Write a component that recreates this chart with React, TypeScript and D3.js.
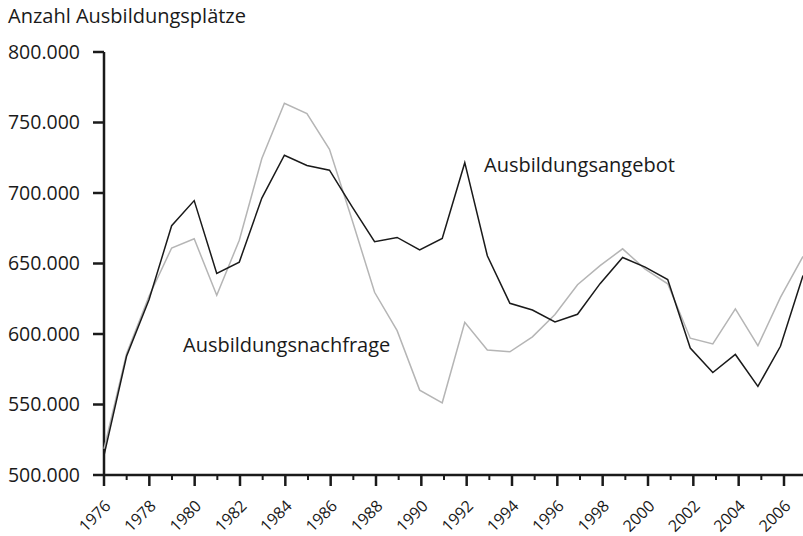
import React from "react";
import * as d3 from "d3";

const years = d3.range(1976, 2008);
const angebot = [513.9, 584.2, 624.5, 676.8, 694.6, 643.0, 651.0, 696.4, 726.8, 719.5, 716.2, 690.3, 665.5, 668.5, 659.7, 667.8, 721.5, 655.5, 621.8, 617.0, 608.5, 614.0, 635.7, 654.3, 647.4, 638.6, 590.0, 572.7, 585.5, 562.8, 591.3, 641.5];
const nachfrage = [518.5, 586.0, 627.0, 661.0, 667.5, 627.5, 666.5, 724.5, 763.6, 756.3, 731.0, 681.0, 629.6, 602.4, 560.2, 551.2, 608.3, 588.7, 587.4, 598.0, 613.8, 634.9, 648.5, 660.4, 646.0, 635.6, 597.0, 593.0, 617.8, 591.7, 626.0, 655.0];
const yTicks = [500, 550, 600, 650, 700, 750, 800];
const xTickYears = d3.range(1976, 2007, 2);
const minorYears = d3.range(1977, 2007, 2);
const title = "Anzahl Ausbildungsplätze";
const labelAngebot = "Ausbildungsangebot";
const labelNachfrage = "Ausbildungsnachfrage";

const W = 803;
const H = 536;
const FONT = "'Open Sans', sans-serif";

export default function App() {
  const x = d3.scaleLinear().domain([1976, 2007]).range([104, 803]);
  const xt = d3.scaleLinear().domain([1976, 2006]).range([104, 784]);
  const y = d3.scaleLinear().domain([500, 800]).range([475, 52]);
  const line = d3
    .line<number>()
    .x((_, i) => x(years[i]))
    .y((d) => y(d));
  const fmt = (v: number) => `${v}.000`;
  return (
    <svg
      width={W}
      height={H}
      style={{ position: "absolute", left: 0, top: 0, background: "#fff" }}
      fontFamily={FONT}
    >
      <text x={8} y={23} fontSize={20} fill="#1a1a1a">
        {title}
      </text>
      {/* y axis */}
      <line x1={104} x2={104} y1={y(800)} y2={y(500) + 1} stroke="#1a1a1a" strokeWidth={2.5} />
      {yTicks.map((t) => (
        <g key={t}>
          <line x1={93} x2={104} y1={y(t)} y2={y(t)} stroke="#1a1a1a" strokeWidth={2.5} />
          <text x={80} y={y(t)} dy="0.35em" textAnchor="end" fontSize={19.5} fill="#1a1a1a">
            {fmt(t)}
          </text>
        </g>
      ))}
      {/* x axis */}
      <line x1={103} x2={803} y1={y(500)} y2={y(500)} stroke="#1a1a1a" strokeWidth={2.5} />
      {xTickYears.map((yr) => (
        <g key={yr}>
          <line x1={xt(yr)} x2={xt(yr)} y1={y(500)} y2={y(500) + 11} stroke="#1a1a1a" strokeWidth={2.5} />
          <text
            transform={`translate(${xt(yr) + 3.7},${y(500) + 28}) rotate(-45)`}
            textAnchor="end"
            dy="0.35em"
            fontSize={16}
            fill="#1a1a1a"
          >
            {yr}
          </text>
        </g>
      ))}
      {minorYears.map((yr) => (
        <line key={yr} x1={xt(yr)} x2={xt(yr)} y1={y(500)} y2={y(500) + 5} stroke="#1a1a1a" strokeWidth={2} />
      ))}
      <path d={line(nachfrage) || ""} fill="none" stroke="#b5b5b5" strokeWidth={1.5} strokeLinejoin="miter" />
      <path d={line(angebot) || ""} fill="none" stroke="#1a1a1a" strokeWidth={1.5} strokeLinejoin="miter" />
      <text x={484} y={171.5} fontSize={20} fill="#1a1a1a">
        {labelAngebot}
      </text>
      <text x={183} y={351.5} fontSize={20} fill="#1a1a1a">
        {labelNachfrage}
      </text>
    </svg>
  );
}
